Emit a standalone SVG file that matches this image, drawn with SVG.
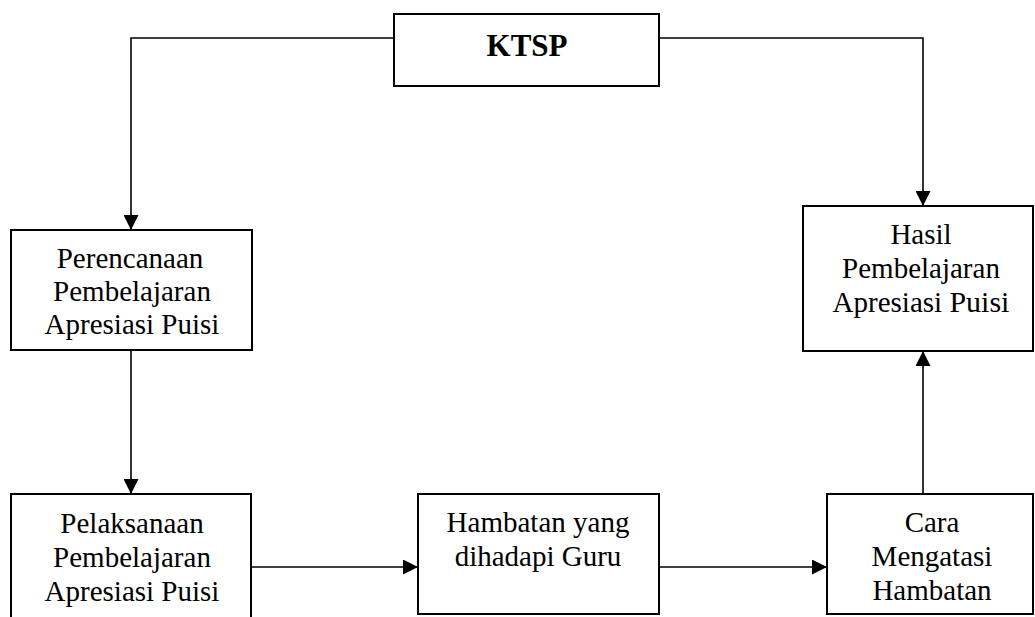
<svg xmlns="http://www.w3.org/2000/svg" width="1035" height="617" viewBox="0 0 1035 617">
<style>
.box{fill:#fff;stroke:#000;stroke-width:2}
.t{font-family:"Liberation Serif","Times New Roman",serif;font-size:29px;fill:#000;text-anchor:middle}
.b{font-weight:bold;font-size:31px}
.c{fill:none;stroke:#000;stroke-width:1.6}
</style>
<defs>
<marker id="ah" viewBox="0 0 14 14" refX="14" refY="7" markerWidth="15" markerHeight="15" orient="auto" markerUnits="userSpaceOnUse">
<path d="M0,0 L14,7 L0,14 Z" fill="#000"/>
</marker>
</defs>
<g id="connectors">
<polyline class="c" points="394,38 131,38 131,230" marker-end="url(#ah)"/>
<polyline class="c" points="659,38 923,38 923,206" marker-end="url(#ah)"/>
<line class="c" x1="131" y1="350" x2="131" y2="494" marker-end="url(#ah)"/>
<line class="c" x1="251" y1="567" x2="418" y2="567" marker-end="url(#ah)"/>
<line class="c" x1="659" y1="567" x2="827" y2="567" marker-end="url(#ah)"/>
<line class="c" x1="923" y1="494" x2="923" y2="351" marker-end="url(#ah)"/>
</g>
<g id="ktsp">
<rect class="box" x="394" y="14" width="265" height="72"/>
<text class="t b" x="527" y="56">KTSP</text>
</g>
<g id="perencanaan">
<rect class="box" x="11" y="230" width="241" height="120"/>
<text class="t" x="130" y="268">Perencanaan</text>
<text class="t" x="132" y="301">Pembelajaran</text>
<text class="t" x="132" y="334">Apresiasi Puisi</text>
</g>
<g id="hasil">
<rect class="box" x="803" y="206" width="230" height="145"/>
<text class="t" x="921" y="244">Hasil</text>
<text class="t" x="921" y="278">Pembelajaran</text>
<text class="t" x="921" y="312">Apresiasi <tspan font-size="30">Puisi</tspan></text>
</g>
<g id="pelaksanaan">
<path class="box" d="M11,618 L11,494 L251,494 L251,618"/>
<text class="t" x="132" y="533">Pelaksanaan</text>
<text class="t" x="132" y="567">Pembelajaran</text>
<text class="t" x="132" y="601">Apresiasi Puisi</text>
</g>
<g id="hambatan">
<rect class="box" x="418" y="494" width="241" height="120"/>
<text class="t" x="538" y="532">Hambatan yang</text>
<text class="t" x="538" y="566">dihadapi Guru</text>
</g>
<g id="cara">
<rect class="box" x="827" y="494" width="206" height="120"/>
<text class="t" x="932" y="532">Cara</text>
<text class="t" x="932" y="566">Mengatasi</text>
<text class="t" x="932" y="600">Hambatan</text>
</g>
</svg>
